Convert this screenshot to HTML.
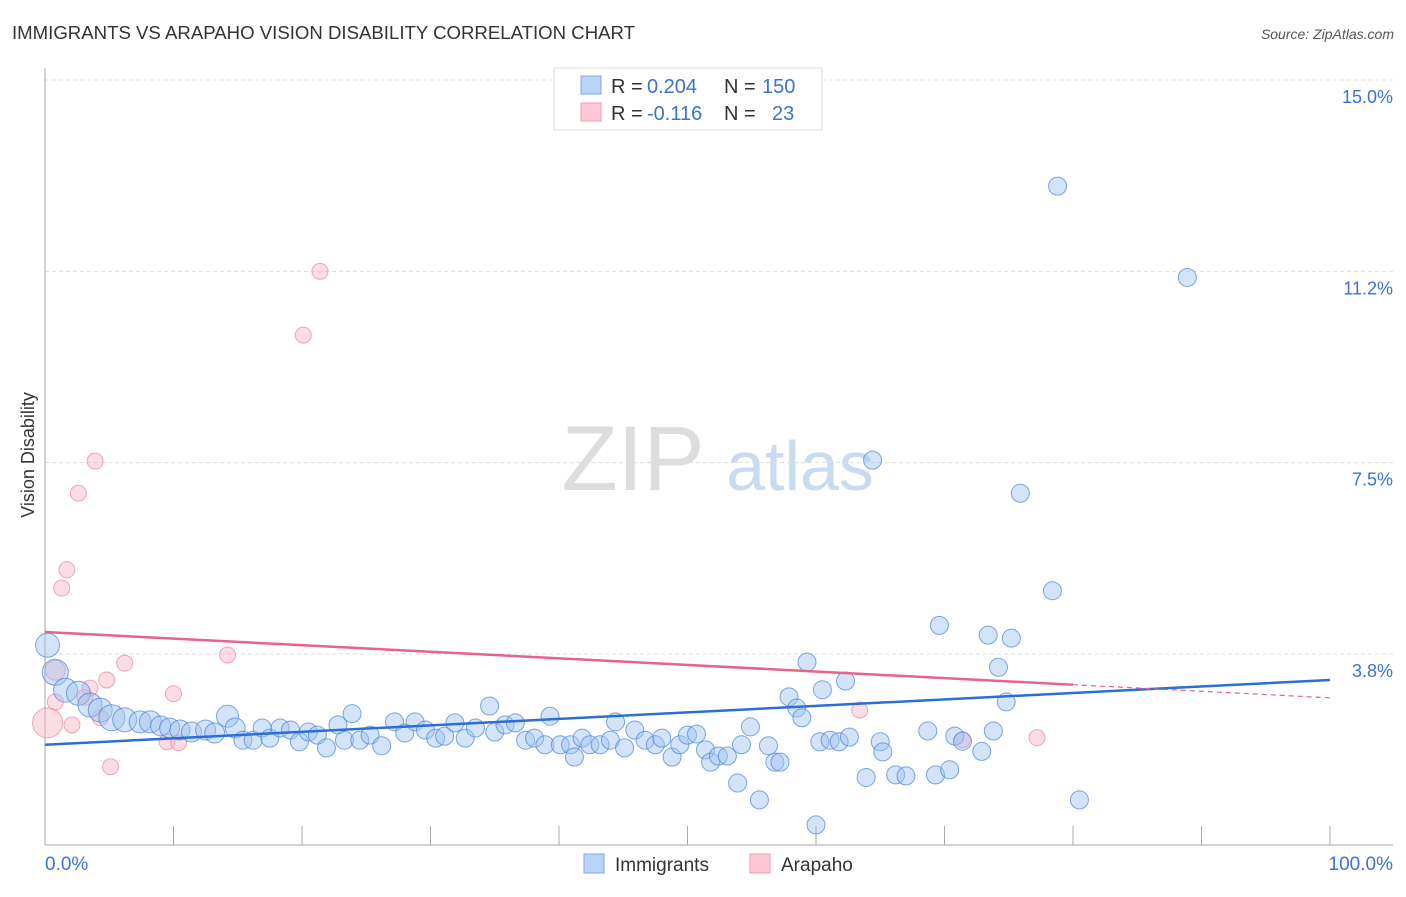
<!DOCTYPE html>
<html><head><meta charset="utf-8"><style>
body{margin:0;background:#fff;font-family:"Liberation Sans",sans-serif}
svg text{font-family:"Liberation Sans",sans-serif}
</style></head><body>
<svg id="chart" width="1406" height="892" viewBox="0 0 1406 892" xmlns="http://www.w3.org/2000/svg">
<text x="12" y="39" font-size="18" fill="#333" textLength="623" lengthAdjust="spacingAndGlyphs">IMMIGRANTS VS ARAPAHO VISION DISABILITY CORRELATION CHART</text>
<text x="1394" y="39" font-size="14" font-style="italic" fill="#555" text-anchor="end">Source: ZipAtlas.com</text>
<g>
<text x="633" y="490" font-size="92" font-family="Liberation Serif" fill="#ddd" text-anchor="middle">ZIP</text>
<text x="800" y="490" font-size="70" fill="#c9dbf3" text-anchor="middle">atlas</text>
</g>
<g id="grid"></g>
<g id="axes"></g>
<g id="points"></g>
<g id="lines"></g>
<text transform="translate(34,455) rotate(-90)" font-size="18" fill="#333" text-anchor="middle">Vision Disability</text>
<g>
<rect x="554" y="68" width="268" height="62" fill="#fff" stroke="#ddd"/>
<rect x="581" y="76" width="20" height="18" fill="#b8d3f5" stroke="#7fa9e6"/>
<text x="611" y="93" font-size="20" fill="#333">R =</text>
<text x="647" y="93" font-size="20" fill="#3b73d4">0.204</text>
<text x="724" y="93" font-size="20" fill="#333">N =</text>
<text x="762" y="93" font-size="20" fill="#3b73d4">150</text>
<rect x="581" y="103" width="20" height="18" fill="#fcc9d6" stroke="#f09ab2"/>
<text x="611" y="120" font-size="20" fill="#333">R =</text>
<text x="647" y="120" font-size="20" fill="#3b73d4">-0.116</text>
<text x="724" y="120" font-size="20" fill="#333">N =</text>
<text x="772" y="120" font-size="20" fill="#3b73d4">23</text>
</g>
<g>
<rect x="584" y="854" width="20" height="19" fill="#b8d3f5" stroke="#7fa9e6"/>
<text x="615" y="871" font-size="19" fill="#333">Immigrants</text>
</g>
<g>
<rect x="750" y="854" width="20" height="19" fill="#fcc9d6" stroke="#f09ab2"/>
<text x="781" y="871" font-size="19" fill="#333">Arapaho</text>
</g>
</svg>
<script>
const yTicks=[3.75,7.5,11.25,15.0];
const yTickLabels=["3.8%","7.5%","11.2%","15.0%"];
const blueX=[0.2,0.8,1.6,2.6,3.5,4.3,5.2,6.2,7.4,8.2,9.0,9.7,10.5,11.4,12.5,13.2,14.2,14.8,15.4,16.2,16.9,17.5,18.3,19.1,19.8,20.5,21.2,21.9,22.8,23.3,23.9,24.5,25.3,26.2,27.2,28.0,28.8,29.6,30.4,31.1,31.9,32.7,33.5,34.6,35.0,35.8,36.6,37.4,38.1,38.9,39.3,40.1,40.9,41.2,41.8,42.4,43.2,44.0,44.4,45.1,45.9,46.7,47.5,48.0,48.8,49.4,50.0,50.7,51.4,51.8,52.4,53.1,53.9,54.2,54.9,55.6,56.3,56.8,57.2,57.9,58.5,58.9,59.3,60.0,60.3,60.5,61.1,61.8,62.3,62.6,63.9,64.4,65.0,65.2,66.2,67.0,68.7,69.3,69.6,70.4,70.8,71.4,72.9,73.4,73.8,74.2,74.8,75.2,75.9,78.4,78.8,80.5,88.9];
const blueY=[3.92,3.39,3.04,2.98,2.75,2.65,2.50,2.46,2.42,2.42,2.34,2.30,2.26,2.22,2.26,2.20,2.53,2.30,2.06,2.06,2.30,2.10,2.30,2.26,2.03,2.22,2.16,1.91,2.36,2.06,2.58,2.06,2.16,1.95,2.42,2.20,2.42,2.26,2.10,2.14,2.40,2.10,2.30,2.73,2.22,2.36,2.40,2.06,2.10,1.97,2.53,1.97,1.97,1.73,2.10,1.97,1.97,2.06,2.42,1.91,2.26,2.06,1.97,2.10,1.73,1.97,2.16,2.18,1.87,1.63,1.75,1.75,1.22,1.97,2.32,0.89,1.95,1.63,1.63,2.91,2.69,2.50,3.59,0.40,2.03,3.05,2.06,2.03,3.22,2.12,1.33,7.55,2.03,1.83,1.38,1.36,2.24,1.38,4.31,1.48,2.14,2.04,1.84,4.12,2.24,3.49,2.81,4.06,6.90,4.99,12.92,0.89,11.13];
const blueR=[12,13,12,12,12,12,13,12,11,11,10,10,10,10,10,10,11,10,9,9,9,9,9,9,9,9,9,9,9,9,9,9,9,9,9,9,9,9,9,9,9,9,9,9,9,9,9,9,9,9,9,9,9,9,9,9,9,9,9,9,9,9,9,9,9,9,9,9,9,9,9,9,9,9,9,9,9,9,9,9,9,9,9,9,9,9,9,9,9,9,9,9,9,9,9,9,9,9,9,9,9,9,9,9,9,9,9,9,9,9,9,9,9];
const pinkX=[0.2,0.8,0.8,1.3,1.7,2.1,2.6,3.1,3.5,3.9,4.3,4.8,5.1,6.2,9.5,10.0,10.4,14.2,20.1,21.4,63.4,71.4,77.2];
const pinkY=[2.40,3.43,2.81,5.04,5.40,2.36,6.90,2.90,3.08,7.53,2.50,3.24,1.54,3.57,2.03,2.97,2.01,3.73,10.0,11.25,2.65,2.07,2.11];
const pinkR=[15,10,8,8,8,8,8,8,8,8,8,8,8,8,8,8,8,8,8,8,8,8,8];
const blueTrend=[1.97,3.24];
const pinkTrend=[4.18,2.89];
const pinkSolidEnd=80;

const NS="http://www.w3.org/2000/svg";
const xs=p=>45+p*12.85;
const ys=v=>845.3-v*51.02;
function mk(tag,attrs,parent){const e=document.createElementNS(NS,tag);for(const k in attrs)e.setAttribute(k,attrs[k]);parent.appendChild(e);return e;}
const grid=document.getElementById('grid'),axes=document.getElementById('axes'),pts=document.getElementById('points'),lines=document.getElementById('lines');
yTicks.forEach((t,i)=>{
  const l=mk('line',{x1:45,x2:1393,y1:ys(t),y2:ys(t),stroke:'#ddd','stroke-dasharray':'4,3'},grid);
  
  
  const tx=mk('text',{x:1393,y:ys(t)+23,'font-size':18,fill:'#3b73d4','text-anchor':'end'},axes);
  tx.textContent=yTickLabels[i];
  
  
});
let a=mk('line',{x1:45,x2:45,y1:68,y2:845,stroke:'#aaa'},axes);


a=mk('line',{x1:45,x2:1393,y1:845,y2:845,stroke:'#aaa'},axes);


for(let i=1;i<=10;i++){
  const t=mk('line',{x1:xs(i*10),x2:xs(i*10),y1:826,y2:845,stroke:'#aaa'},axes);
  
  
}
let xl=mk('text',{x:45,y:870,'font-size':19,fill:'#3b73d4'},axes);xl.textContent='0.0%';


xl=mk('text',{x:1393,y:870,'font-size':19,fill:'#3b73d4','text-anchor':'end'},axes);xl.textContent='100.0%';



pinkX.forEach((x,i)=>{
  const c=mk('circle',{cx:xs(x),cy:ys(pinkY[i]),r:pinkR[i],fill:'rgba(248,170,192,0.4)',stroke:'rgba(236,130,160,0.7)','stroke-width':1},pts);
  
  
});
blueX.forEach((x,i)=>{
  const c=mk('circle',{cx:xs(x),cy:ys(blueY[i]),r:blueR[i],fill:'rgba(160,196,240,0.45)',stroke:'rgba(70,130,220,0.7)','stroke-width':1},pts);
  
  
});
let ln=mk('line',{x1:xs(0),y1:ys(blueTrend[0]),x2:xs(100),y2:ys(blueTrend[1]),stroke:'#2a6ed6','stroke-width':2.5},lines);


const pAt=p=>pinkTrend[0]+(pinkTrend[1]-pinkTrend[0])*p/100;
ln=mk('line',{x1:xs(0),y1:ys(pinkTrend[0]),x2:xs(pinkSolidEnd),y2:ys(pAt(pinkSolidEnd)),stroke:'#e8628e','stroke-width':2.5},lines);


ln=mk('line',{x1:xs(pinkSolidEnd),y1:ys(pAt(pinkSolidEnd)),x2:xs(100),y2:ys(pinkTrend[1]),stroke:'#e8628e','stroke-width':1.2,'stroke-dasharray':'5,4'},lines);


</script>
</body></html>
